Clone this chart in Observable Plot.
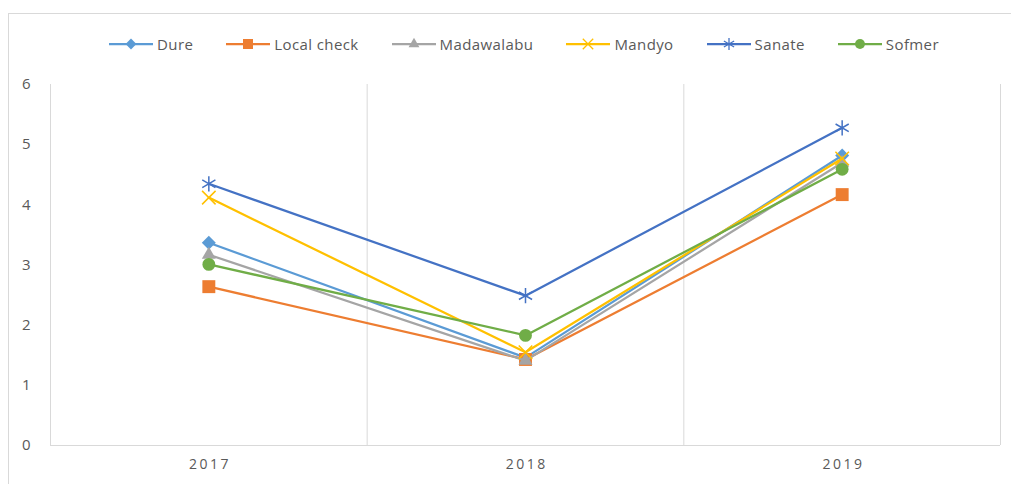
<!DOCTYPE html>
<html><head><meta charset="utf-8">
<script src="https://cdn.jsdelivr.net/npm/d3@7"></script>
<script src="https://cdn.jsdelivr.net/npm/@observablehq/plot@0.6"></script>
<style>
body{margin:0;background:#fff;width:1011px;height:484px;overflow:hidden;position:relative;font-family:"Open Sans",sans-serif;}
#frame{position:absolute;left:8px;top:13px;width:1100px;height:600px;border-top:1px solid #d9d9d9;border-left:1px solid #d9d9d9;}
#legend{position:absolute;top:34px;left:18px;width:1011px;height:20px;display:flex;justify-content:center;align-items:center;font-size:15px;color:#595959;letter-spacing:0.4px;}
#legend .item{display:flex;align-items:center;margin-right:32px;}
#legend .item:last-child{margin-right:0;}
#legend svg{display:block;margin-right:3px;}
#chart{position:absolute;left:0;top:70px;}
#chart g[aria-label="x-axis tick label"] text{letter-spacing:2.5px;}
</style></head>
<body>
<div id="frame"></div>
<div id="legend"></div>
<div id="chart"></div>
<script>
const years = [2017, 2018, 2019];
const seriesNames = ["Dure", "Local check", "Madawalabu", "Mandyo", "Sanate", "Sofmer"];
const dure = [3.37, 1.46, 4.82];
const localCheck = [2.64, 1.43, 4.17];
const madawalabu = [3.17, 1.41, 4.70];
const mandyo = [4.12, 1.55, 4.77];
const sanate = [4.35, 2.49, 5.28];
const sofmer = [3.01, 1.83, 4.59];
const yTicks = [0, 1, 2, 3, 4, 5, 6];

const valuesBySeries = {"Dure": dure, "Local check": localCheck, "Madawalabu": madawalabu, "Mandyo": mandyo, "Sanate": sanate, "Sofmer": sofmer};

const style = {
  "Dure":        {color: "#5B9BD5", symbol: "diamond2", d3sym: d3.symbolDiamond2, r: 6.3, filled: true},
  "Local check": {color: "#ED7D31", symbol: "square",   d3sym: d3.symbolSquare,   r: 7.3, filled: true},
  "Madawalabu":  {color: "#A5A5A5", symbol: "triangle", d3sym: d3.symbolTriangle, r: 5.2, filled: true},
  "Mandyo":      {color: "#FFC000", symbol: "times",    d3sym: d3.symbolTimes,    r: 6.2, filled: false},
  "Sanate":      {color: "#4472C4", symbol: "asterisk", d3sym: d3.symbolAsterisk, r: 7.2, filled: false},
  "Sofmer":      {color: "#70AD47", symbol: "circle",   d3sym: d3.symbolCircle,   r: 6.4, filled: true}
};

const rows = [];
for (const s of seriesNames) valuesBySeries[s].forEach((v, i) => rows.push({series: s, year: years[i], value: v}));

const marks = [
  Plot.ruleX([2016.5], {y1: 0, y2: 6, stroke: "#d9d9d9", strokeWidth: 1}),
  Plot.ruleX([2017.5, 2018.5, 2019.5], {y1: 0, y2: 6, stroke: "#d9d9d9", strokeWidth: 1}),
  Plot.ruleY([0], {stroke: "#d9d9d9", strokeWidth: 1}),
  Plot.axisY({ticks: yTicks, tickSize: 0, tickPadding: 20, fontSize: 15, tickFormat: d => String(d), color: "#595959", label: null}),
  Plot.axisX({ticks: years, tickSize: 0, tickPadding: 14, fontSize: 14, tickFormat: d => String(d), color: "#595959", label: null, dx: 1.25})
];
for (const s of seriesNames) {
  const st = style[s];
  const data = rows.filter(d => d.series === s);
  marks.push(Plot.line(data, {x: "year", y: "value", stroke: st.color, strokeWidth: 2.25}));
  marks.push(Plot.dot(data, {x: "year", y: "value", symbol: () => st.symbol, r: st.r,
    fill: st.filled ? st.color : "none", stroke: st.color, strokeWidth: st.filled ? 0 : 1.5}));
}

const chart = Plot.plot({
  width: 1011, height: 412,
  marginTop: 14, marginBottom: 37, marginLeft: 50, marginRight: 11,
  x: {domain: [2016.5, 2019.5], axis: null},
  y: {domain: [0, 6], axis: null},
  symbol: {type: "identity"},
  style: {fontFamily: "'Open Sans', sans-serif", color: "#595959", background: "transparent"},
  marks
});
document.getElementById("chart").appendChild(chart);

// legend
const legend = d3.select("#legend");
for (const s of seriesNames) {
  const st = style[s];
  const item = legend.append("div").attr("class", "item");
  const svg = item.append("svg").attr("width", 46).attr("height", 20);
  svg.append("line").attr("x1", 1).attr("x2", 45).attr("y1", 10).attr("y2", 10).attr("stroke", st.color).attr("stroke-width", 2.25);
  svg.append("path").attr("transform", "translate(23,10)")
    .attr("d", d3.symbol(st.d3sym, Math.PI * st.r * st.r * 0.6)())
    .attr("fill", st.filled ? st.color : "none").attr("stroke", st.color).attr("stroke-width", st.filled ? 0 : 1.3);
  item.append("span").text(s);
}
</script>
</body></html>
